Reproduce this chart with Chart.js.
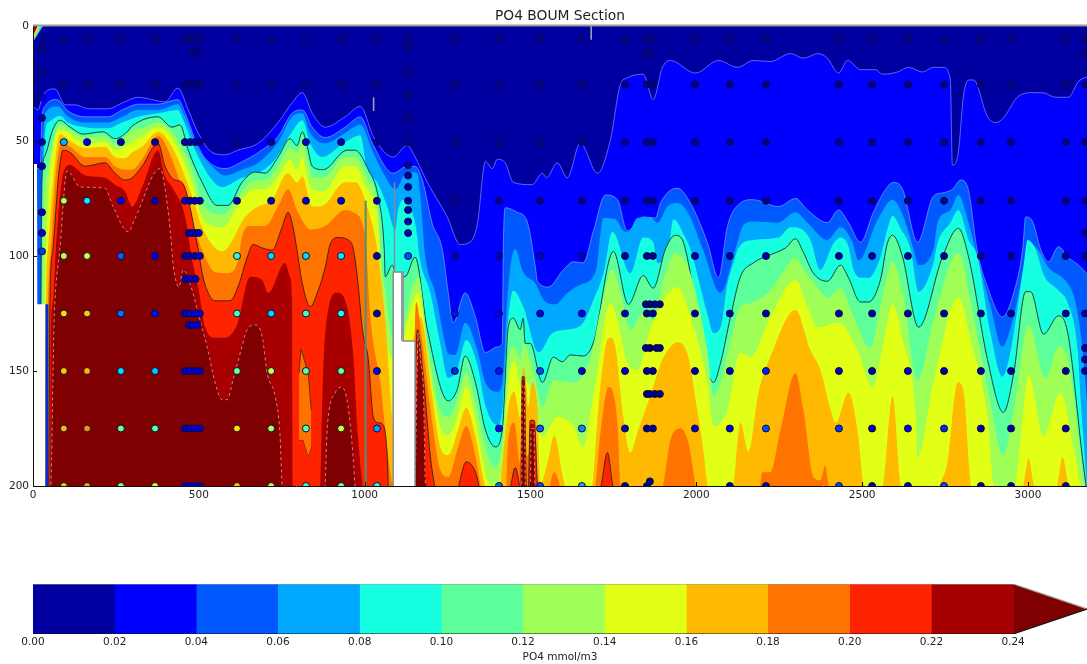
<!DOCTYPE html>
<html>
<head>
<meta charset="utf-8">
<title>PO4 BOUM Section</title>
<script src="https://cdn.jsdelivr.net/npm/chart.js@4"></script>
<style>
  html, body { margin: 0; background: #fff; }
  canvas { position: absolute; left: 0; }
  #section { top: 0; }
  #colorbar { top: 570px; }
</style>
</head>
<body>
<canvas id="section" width="1087" height="520"></canvas>
<canvas id="colorbar" width="1087" height="94"></canvas>
<script>
// Colour bands and axis ticks
const levelValues = [0, 0.02, 0.04, 0.06, 0.08, 0.10, 0.12, 0.14, 0.16, 0.18, 0.20, 0.22, 0.24];
const bandColors = ["#0000a0", "#0000ff", "#0058ff", "#00a8ff", "#16ffe1", "#5cff9a", "#a0ff56", "#e2ff16", "#ffb900", "#ff7300", "#ff2400", "#a80000", "#7f0000"];
const xTickValues = [0, 500, 1000, 1500, 2000, 2500, 3000];
const yTickValues = [0, 50, 100, 150, 200];

// Contour lines: [distance km, depth m]. Depth 205 means the level is not reached above 200 m.
const iso00 = [[0,0],[3180,0]];
const iso02 = [[0,35],[15,36.5],[30,30],[66,27.4],[97,34.3],[127,34.3],[166,36],[226,36],[269,33.5],[317,31],[398,33],[437,27],[468,36.5],[498,46.5],[540,55],[579,56],[618,54],[679,51],[739,42],[781,33.5],[812,29],[842,38],[881,44],[941,39.5],[987,35],[1026,48],[1086,57],[1128,52],[1152,57],[1189,68],[1249,83],[1288,95],[1318,94],[1340,86],[1364,59],[1385,62],[1400,58],[1424,59.5],[1448,68],[1505,69],[1536,64],[1548,66],[1581,59.5],[1611,66],[1650,51],[1702,64],[1741,49.5],[1771,25.5],[1792,22.5],[1840,21],[1870,32],[1898,18],[1922,15],[1997,20.5],[2067,15],[2124,18],[2172,15],[2223,15.5],[2284,12],[2323,14],[2368,12],[2395,14],[2429,20.5],[2456,15],[2495,19],[2540,19],[2561,21],[2607,20],[2640,18],[2682,20],[2715,18],[2745,18],[2766,23.5],[2772,60.5],[2790,55],[2805,31],[2821,23.5],[2836,23.5],[2878,39.5],[2902,42],[2926,40],[2968,31],[3014,29],[3044,29],[3083,31],[3122,31],[3153,24],[3180,22]];
const iso04 = [[0,62],[21,62],[27,40],[36,35],[72,32],[106,37],[157,39.5],[226,39.5],[269,36.5],[317,34],[377,34],[437,32],[459,38],[489,49.5],[519,57.5],[579,62],[630,59],[679,55],[739,48],[781,38],[812,36.5],[842,44],[881,48.5],[941,44],[987,39.5],[1023,51],[1086,64],[1128,61],[1152,61],[1174,67],[1204,86],[1234,97],[1252,116],[1267,129],[1303,116],[1334,126.5],[1364,142],[1400,139.5],[1415,138],[1418,97],[1424,79],[1460,81],[1490,85],[1515,105],[1521,111],[1554,113.5],[1599,106],[1629,102.5],[1659,103],[1690,89],[1726,73.5],[1762,75.5],[1792,89],[1840,83],[1877,83.5],[1892,77],[1943,70.5],[1982,77],[2033,94],[2067,109.5],[2094,87],[2133,77],[2169,75.5],[2248,78.5],[2299,75],[2335,80],[2395,85.5],[2429,80],[2459,85.5],[2495,94],[2534,81],[2576,70],[2595,68],[2622,71],[2667,94],[2715,74],[2745,72.5],[2772,71],[2797,67],[2818,70],[2848,98.5],[2878,113.5],[2923,126.5],[2957,116],[2984,97],[2993,83],[3014,85],[3038,97],[3062,102.5],[3092,96],[3120,100.5],[3153,104],[3180,108]];
const iso06 = [[0,205],[24,205],[27,60],[30,49.5],[36,38],[75,35],[106,39.5],[157,42],[226,42],[269,39.5],[317,36.5],[377,36.5],[437,34],[459,39.5],[495,52.5],[540,61],[579,65],[630,62.5],[679,59.5],[739,50.5],[781,39.5],[812,38],[836,46.5],[881,51],[941,46.5],[987,43],[1026,55],[1062,65.5],[1092,71],[1128,63.5],[1159,64],[1168,74],[1183,100],[1213,116],[1243,138],[1252,142.5],[1273,143],[1303,129],[1340,141],[1364,155],[1403,159],[1418,151],[1430,119],[1442,102],[1454,97],[1478,107],[1515,112],[1539,119],[1575,121],[1611,116],[1650,112.5],[1696,107],[1720,83.5],[1756,84],[1780,89],[1795,89.5],[1822,83.5],[1861,83],[1883,85.5],[1913,78.5],[1943,77],[1976,81.5],[2021,97.5],[2073,116],[2118,97],[2142,86.5],[2172,85],[2245,85.5],[2299,81],[2335,85.5],[2395,93],[2435,87.5],[2471,94],[2489,102],[2546,84.5],[2592,75.5],[2625,83],[2655,97],[2670,104],[2715,97],[2727,85.5],[2766,80],[2790,73.5],[2821,85.5],[2842,97],[2887,122],[2923,139.5],[2948,131],[2984,107.5],[2999,94],[3029,97],[3062,105],[3120,112],[3144,120.5],[3165,141],[3180,167]];
const iso08 = [[0,205],[30,205],[33,56],[45,42],[81,39],[106,42],[157,44],[226,44.5],[269,42],[317,39.5],[377,38],[437,36.5],[453,41],[489,54],[540,67],[570,70],[630,66],[679,64],[730,58],[781,46],[812,41],[836,51],[872,57],[941,50.5],[987,47.5],[1008,62.5],[1038,68],[1068,78.5],[1092,88.5],[1101,80],[1116,75.5],[1137,78.5],[1159,92],[1162,97],[1198,116],[1228,138],[1252,153],[1279,149],[1306,136.5],[1340,147.5],[1364,165],[1400,173.5],[1415,167],[1430,132],[1448,115],[1478,122],[1524,142],[1566,133.5],[1611,132],[1659,129],[1690,119],[1720,107.5],[1747,89.5],[1801,107.5],[1840,92],[1870,94],[1883,103],[1913,100],[1931,84],[1967,92],[1982,97],[2033,125],[2052,133.5],[2073,131],[2094,112],[2112,103],[2127,96.5],[2172,93],[2248,92],[2284,87.5],[2299,87.5],[2344,93],[2374,106],[2414,94.5],[2435,92],[2459,96],[2474,106],[2501,109.5],[2519,109.5],[2555,100.5],[2576,88.5],[2592,82.5],[2616,88],[2646,97],[2670,115.5],[2715,103],[2727,94.5],[2766,85.5],[2790,80],[2821,93],[2848,100.5],[2887,133.5],[2923,152.5],[2948,141],[2987,104],[2999,93],[3023,97],[3047,108],[3092,115],[3120,120.5],[3150,141],[3159,162.5],[3174,192],[3180,205]];
const iso10 = [[0,205],[21,205],[24,119],[27,67],[36,56.5],[60,45],[81,41],[112,44],[151,47],[211,46],[247,49],[284,46],[299,43.5],[377,39.5],[419,44],[443,43],[468,54],[510,68],[555,78],[588,78],[630,68],[670,63.5],[700,64],[739,57],[775,49],[796,52],[812,46],[827,52.5],[842,61],[875,62.5],[947,54],[971,54],[1011,62.5],[1041,74.5],[1059,97],[1062,109],[1083,104],[1092,107],[1122,109],[1152,100.5],[1189,132],[1252,163],[1279,158],[1303,143.5],[1334,155],[1364,175.5],[1394,183],[1415,175.5],[1433,131],[1448,127],[1469,132],[1478,127],[1484,138],[1499,138],[1536,155],[1569,144],[1596,146],[1620,143],[1659,143.5],[1690,137.5],[1750,98],[1795,121],[1840,108.5],[1870,114],[1907,97],[1937,91],[1958,93],[1967,97],[2052,155],[2073,146.5],[2103,126.5],[2133,109],[2172,103],[2223,99.5],[2269,96.5],[2299,92.5],[2323,98.5],[2353,107.5],[2395,111],[2435,104],[2459,109.5],[2495,120],[2519,120],[2555,110.5],[2576,94.5],[2592,91],[2622,100.5],[2670,131],[2742,100.5],[2790,88],[2821,100.5],[2878,145],[2926,168],[2957,151],[2993,115.5],[3008,115.5],[3047,134],[3092,126],[3120,133.5],[3165,188.5],[3174,198.5],[3180,205]];
const iso12 = [[0,205],[27,205],[30,97],[42,64],[66,48],[81,43],[112,45],[157,48.5],[217,48],[247,51],[278,48.5],[299,45.5],[329,44.5],[377,42],[419,46],[480,62.5],[510,77],[570,82],[630,72],[670,67],[700,67],[739,61],[775,53],[796,55],[812,50.5],[827,58],[842,65.5],[875,66],[941,57],[971,57],[1011,67],[1041,80],[1047,97],[1062,115],[1083,136.5],[1092,139],[1162,109],[1192,141],[1228,167],[1252,170],[1279,162.5],[1306,151],[1334,164],[1364,183],[1394,192],[1415,181],[1433,145],[1451,139.5],[1469,145],[1478,138],[1499,145],[1521,158],[1536,165.5],[1569,154],[1629,155],[1680,145],[1711,123.5],[1747,106],[1771,116],[1801,132],[1840,125],[1870,128],[1898,112],[1937,98.7],[1982,107.5],[2033,141],[2052,161],[2073,155],[2109,133.5],[2133,122],[2163,120.5],[2223,115],[2260,107.5],[2299,100.5],[2320,105],[2365,113.5],[2395,118],[2435,114],[2471,125],[2525,140],[2555,122],[2592,102.5],[2622,115],[2667,154],[2715,128],[2790,98.7],[2836,126.5],[2878,157],[2926,186.5],[2957,167],[3002,130],[3053,153],[3092,139.5],[3120,145],[3153,178.5],[3168,198.5],[3180,205]];
const iso14 = [[0,205],[33,205],[36,115],[39,97],[51,64],[81,45],[112,47],[157,51],[217,50.5],[247,54],[278,52.5],[299,50.5],[329,48],[377,44],[419,48.5],[480,68],[510,83],[570,87.5],[630,75.5],[670,71],[700,71],[739,65.5],[775,58],[796,62.5],[812,57],[827,65.5],[842,71],[875,72],[941,61],[971,61],[1011,72],[1041,84.5],[1053,116],[1071,141],[1092,145],[1162,116],[1198,151],[1228,174],[1252,178],[1279,170],[1306,157],[1334,171],[1364,194],[1382,199.5],[1403,199],[1418,184],[1433,155],[1451,146],[1475,158],[1490,155],[1515,170],[1536,178.5],[1581,170],[1629,174],[1659,183],[1696,155],[1741,120.5],[1762,128],[1792,146.5],[1822,149.5],[1861,132],[1907,118],[1943,113.5],[1976,123.5],[2033,155],[2052,174],[2073,172.5],[2094,167],[2133,142],[2163,144],[2223,126.5],[2299,110.5],[2335,122],[2365,131],[2429,129],[2486,141],[2531,157],[2564,138],[2592,121],[2622,136.5],[2661,168],[2667,187.5],[2715,155],[2790,118],[2827,136.5],[2878,170],[2896,199],[2923,205],[2945,205],[2963,199],[2984,170],[3002,152],[3047,178.5],[3098,159.5],[3138,184],[3159,199],[3180,205]];
const iso16 = [[0,205],[36,205],[39,120],[45,97],[63,64],[81,47],[112,50],[157,53],[217,52.5],[247,57],[278,57.5],[299,55],[329,52.5],[377,46],[419,52.5],[480,74],[510,87.5],[570,98],[640,83],[679,78.5],[721,75.5],[769,64],[796,68],[812,65.5],[842,78.5],[875,78],[941,68],[971,68],[1011,80],[1038,97],[1062,128],[1083,170],[1092,180],[1168,126.5],[1204,161],[1228,183],[1252,186.5],[1282,175.5],[1306,166],[1334,178.5],[1361,199],[1375,205],[1400,205],[1409,199],[1418,185.5],[1433,165.5],[1451,159],[1469,170],[1478,148],[1487,155],[1493,165.5],[1505,155],[1521,167],[1530,199],[1551,190],[1572,178],[1599,197],[1614,205],[1675,205],[1687,199],[1705,165.5],[1726,139.5],[1741,135.5],[1756,139.5],[1780,170],[1801,185.5],[1825,175.5],[1861,161],[1898,145],[1946,137.5],[1976,144],[2003,167],[2021,184],[2033,199],[2045,205],[2100,205],[2112,199],[2133,172.5],[2157,185],[2187,159.5],[2223,144],[2299,123.5],[2344,141],[2374,149.5],[2405,167],[2420,172.5],[2459,159.5],[2486,175.5],[2504,199],[2520,205],[2550,205],[2564,199],[2592,161],[2616,199],[2630,205],[2725,205],[2736,199],[2757,190],[2788,155],[2805,158],[2827,199],[2840,205],[2975,205],[2987,199],[3002,188],[3017,199],[3030,205],[3075,205],[3089,199],[3104,187.5],[3122,199],[3135,205],[3180,205]];
const iso18 = [[0,205],[36,205],[45,120],[54,97],[69,64],[87,50.5],[112,52.5],[157,57],[217,57],[247,61],[278,62.5],[299,62.5],[329,58],[377,48],[419,58],[468,80],[519,100.5],[549,107],[588,107.5],[618,102],[630,92],[649,87],[700,87],[739,78.5],[769,71],[799,81],[836,88.5],[881,87],[941,80],[965,81],[1002,92],[1017,126.5],[1047,155],[1071,187],[1083,199],[1100,205],[1140,205],[1155,120],[1174,138],[1204,172.5],[1228,193],[1252,196],[1282,183],[1306,174],[1334,187],[1349,199],[1360,205],[1425,205],[1433,180],[1451,172.5],[1469,190],[1475,161],[1484,158],[1490,187],[1496,184],[1502,171],[1515,172.5],[1521,199],[1530,205],[1555,205],[1560,199],[1572,194],[1587,199],[1595,205],[1685,205],[1696,199],[1711,177],[1735,157],[1762,172.5],[1771,199],[1780,205],[1890,205],[1901,199],[1922,180],[1952,175],[1976,181],[1997,199],[2005,205],[2180,205],[2193,199],[2199,194],[2223,194],[2254,175.5],[2299,151],[2323,167],[2353,196],[2374,197.5],[2389,191],[2398,199],[2410,205],[3180,205]];
const iso20 = [[0,205],[36,205],[47,200],[51,120],[60,97],[78,64],[91,54],[112,55],[157,61],[217,59.5],[247,64],[278,67],[299,66],[329,61],[377,51],[398,61],[428,67],[449,68],[498,97],[510,107.5],[528,116],[549,119.5],[594,119.5],[618,113.5],[646,100.5],[664,95],[691,96.5],[721,97.5],[751,87.5],[769,81],[784,87.5],[796,97.5],[812,112],[836,122],[860,115],[881,105],[896,95],[920,92],[950,93],[965,96.5],[980,112],[993,132],[1011,145],[1026,170],[1041,172.5],[1056,173.5],[1068,187],[1071,199],[1078,205],[1140,205],[1159,132],[1177,152.5],[1198,187],[1210,199],[1220,205],[1275,205],[1285,199],[1306,189.5],[1334,194],[1343,199],[1350,205],[1435,205],[1442,199],[1454,192],[1466,199],[1472,205],[1473,205],[1475,152.5],[1481,152.5],[1487,199],[1493,205],[1499,171.5],[1511,171.5],[1521,199],[1527,205],[1705,205],[1714,199],[1732,185.5],[1747,199],[1755,205],[3180,205]];
const iso22 = [[0,205],[36,205],[51,200],[54,132],[60,120],[69,97],[91,64],[112,60.5],[157,65],[217,66],[247,69],[278,72],[299,78.5],[329,70],[377,54],[398,65.5],[419,70],[459,83],[480,102],[498,113.5],[519,131],[549,135.5],[579,135.5],[615,130],[655,109],[691,110.5],[709,116],[760,103],[775,109],[781,119],[783,199],[786,205],[860,205],[866,199],[872,162.5],[881,133.5],[917,116],[947,122],[965,142],[980,178.5],[993,199],[1000,205],[1145,205],[1157,160],[1177,155],[1186,199],[1192,205],[1470,205],[1474,154],[1482,154],[1486,205],[1497,205],[1500,173],[1510,173],[1516,205],[3180,205]];
const iso24 = [[0,205],[36,205],[50,205],[54,200],[63,132],[66,120],[81,97],[103,63],[112,64],[142,70],[217,70.5],[241,78.5],[287,89.5],[308,83.5],[383,62],[407,80],[419,97.5],[422,103],[440,113.5],[453,106],[480,115],[498,125],[525,139.5],[549,155],[570,162.5],[585,162.5],[603,154],[630,139.5],[646,132],[670,130],[691,135],[706,151],[730,161],[745,178.5],[751,200],[755,205],[875,205],[881,199],[887,175.5],[911,159.5],[932,157],[950,165.5],[965,187],[971,200],[976,205],[1150,205],[1162,133.5],[1168,145],[1177,158],[1183,199],[1188,205],[1473,205],[1475,156],[1481,156],[1485,205],[1500,205],[1502,175],[1510,175],[1514,205],[3180,205]];
const isoLines = [iso00, iso02, iso04, iso06, iso08, iso10, iso12, iso14, iso16, iso18, iso20, iso22, iso24];

// Orange pocket inside the red water near 800 km
const pocketTop = [[802,151],[808,140.5],[830,151],[839,167]];
const pocketBottom = [[802,180],[815,180],[830,187],[839,183]];
// Small high-value patch in the top left corner
const cornerCyan = [[0,7],[30,0]];
const cornerYellow = [[0,6],[22,0]];
const cornerRed = [[0,4.5],[14,0]];
// Missing data columns
const gapLeft = [[0,60],[12,60],[13,121],[36,121]];
const gapMiddle = [[1086,205],[1086,107],[1116,107],[1116,137],[1152,137],[1152,205]];
// Narrow vertical artefacts
const stripeLeft = [[42,121],[42,205]];
const spike1000 = [[1003,76],[1003,205]];
const spike1090 = [[1090,68],[1090,107]];
const spike1112 = [[1112,107],[1112,137]];
const mark1027 = [[1027,31],[1027,37]];
const mark1683 = [[1683,0],[1683,6]];

// Bottle samples, one row per depth, aligned with stationKm
const stationKm = [27,93,163,265,368,458,473,488,503,615,718,823,929,1037,1131,1272,1405,1529,1655,1785,1851,1869,1996,2101,2210,2430,2530,2638,2747,2858,2949,3114,3172];
const depthRows = [5.5, 25.5, 50.5, 76, 100, 125, 150, 175, 200];
const po4At5 = [.01,.005,.005,.005,.005,.005,.005,.005,.005,.005,.005,.01,.005,.005,.005,.005,.005,.005,.005,.005,.005,.005,.005,.005,.005,.005,.005,.005,.005,.005,.005,.005,.005];
const po4At25 = [null,.005,.005,.005,.005,.005,.005,.005,.005,.005,.005,.01,.005,.005,null,.005,.005,.005,.005,.005,.005,.005,.005,.005,.005,.005,.005,.005,.005,.005,.005,.005,.005];
const po4At50 = [.01,.075,.03,.01,.01,.01,.01,.01,.005,.005,.01,.015,.015,.01,.01,.005,.005,.005,.005,.005,.005,.005,.005,.005,.005,.005,.005,.005,.005,.005,.005,.005,.005];
const po4At75 = [null,.14,.09,.03,.02,.015,.015,.015,.01,.015,.015,.02,.02,.01,.01,.005,.005,.005,.005,.005,.005,.005,.005,.005,.005,.005,.005,.005,.005,.005,.005,.005,.005];
const po4At100 = [null,.14,.145,.055,.03,.015,.015,.01,.02,.105,.085,.085,.09,.01,.05,.015,.015,.02,.02,.01,.005,.005,.01,.01,.01,.01,.01,.01,.01,.005,.005,.01,.005];
const po4At125 = [null,.165,.17,.06,.035,.02,.025,.03,.025,.11,.085,.11,.1,.01,null,.035,.03,.025,.03,.015,.005,.005,.01,.01,.01,.01,.01,.01,.01,.005,.01,.01,.01];
const po4At150 = [null,.17,.175,.085,.08,.02,.025,.02,.02,.12,.14,.115,.12,.03,null,.04,.035,.05,.015,.02,.005,.005,.01,.01,.04,.015,.01,.015,.01,.005,.01,.01,.01];
const po4At175 = [null,.175,.185,.12,.115,.02,.02,.025,.02,.165,.135,.115,.145,.07,null,null,.035,.055,.065,.015,.005,.005,.015,.025,.05,.045,.015,.03,.04,.01,.01,.01,null];
const po4At200 = [null,.17,.18,.13,.15,.02,.02,.02,.025,.17,.14,.11,.125,.1,null,null,.06,.05,.075,.01,.01,null,null,.01,.01,.05,.01,.02,.05,.01,.005,.005,null];
const po4Rows = [po4At5, po4At25, po4At50, po4At75, po4At100, po4At125, po4At150, po4At175, po4At200];

// Extra bottles on the finely sampled casts
const extraKm = [27,27,27,27,27,27,27,27,1131,1131,1131,1131,1131,1131,1131,1131,1131,1131,480,495,470,480,490,500,460,475,490,470,480,495,1851,1860,1848,1860,1875,1890,1848,1860,1880,1890,1851,1860,1875,1890,1860,3172,3172,3172,3172];
const extraDepth = [10,20,31,40,61,81,90,98,9.5,20,30,40,60.5,65,70,80,85,90,11,11,90,90,90,90,110,110,110,130,130,130,12,12,121,121,121,121,140,140,140,140,160,160,160,160,198,12,90,140,145];
const extraPO4 = [.005,.005,.02,.01,.01,.015,.025,.045,.005,.005,.005,.005,.01,.01,.01,.01,.015,.015,.005,.005,.015,.02,.02,.02,.02,.02,.02,.02,.025,.025,.005,.005,.002,.002,.002,.002,.002,.002,.002,.002,.002,.002,.002,.002,.002,.005,.005,.01,.01];

const FONT = "'DejaVu Sans', sans-serif";

function toPoints(pairs) {
  return pairs.map(p => ({ x: p[0], y: p[1] }));
}

// jet colormap for the sample dots
function jetColor(v) {
  const t = v / 0.25;
  const c = k => Math.round(255 * Math.min(1, Math.max(0, 1.5 - Math.abs(4 * t - k))));
  return `rgb(${c(3)},${c(2)},${c(1)})`;
}

function outline(i) {
  if (i === 1 || i === 2) return { borderColor: "rgba(190,210,255,.6)", borderWidth: 0.8 };
  if (i === 5) return { borderColor: "#17433c", borderWidth: 1 };
  if (i === 10) return { borderColor: "#43260c", borderWidth: 1 };
  if (i === 12) return { borderColor: "rgba(225,190,190,.7)", borderWidth: 1, borderDash: [3, 3] };
  return { borderWidth: 0 };
}

function sampleDataset() {
  const points = [];
  const colors = [];
  po4Rows.forEach((row, r) => {
    row.forEach((v, s) => {
      if (v === null) return;
      points.push({ x: stationKm[s], y: depthRows[r] });
      colors.push(jetColor(v));
    });
  });
  extraKm.forEach((km, i) => {
    points.push({ x: km, y: extraDepth[i] });
    colors.push(jetColor(extraPO4[i]));
  });
  return {
    data: points, showLine: false, order: 0, pointRadius: 3.5, pointBorderWidth: 1,
    pointBackgroundColor: colors, pointBorderColor: "#0a0a3a"
  };
}

function sectionDatasets() {
  const sets = isoLines.map((pairs, i) => ({
    data: toPoints(pairs), order: 200 - i, pointRadius: 0,
    cubicInterpolationMode: "monotone",
    backgroundColor: bandColors[i], fill: { value: 205 }, ...outline(i)
  }));

  // pocket: top edge fills down to the bottom edge in the next dataset
  sets.push({ data: toPoints(pocketTop), order: 40, pointRadius: 0, borderColor: "#43260c", borderWidth: 0.8, backgroundColor: bandColors[9], fill: "+1" });
  sets.push({ data: toPoints(pocketBottom), order: 41, pointRadius: 0, borderColor: "#43260c", borderWidth: 0.8, fill: false });

  [[cornerCyan, "#30e0ff"], [cornerYellow, "#ffe020"], [cornerRed, "#a01000"]].forEach((c, i) => {
    sets.push({ data: toPoints(c[0]), order: 30 - i, pointRadius: 0, borderWidth: 0, backgroundColor: c[1], fill: { value: 0 } });
  });

  sets.push({ data: toPoints(gapLeft), order: 20, pointRadius: 0, borderWidth: 0, backgroundColor: "#fff", fill: { value: 205 } });
  sets.push({ data: toPoints(gapMiddle), order: 19, pointRadius: 0, borderColor: "#8a8a8a", borderWidth: 1.5, backgroundColor: "#fff", fill: { value: 205 } });

  [[stripeLeft, "#0a28d8", 3], [spike1000, "#4f8f80", 2], [spike1090, "#8a8a9a", 1.5], [spike1112, "#8a8a9a", 1.5], [mark1027, "#a8a8a8", 1.5], [mark1683, "#a8a8a8", 1.5]].forEach((s, i) => {
    sets.push({ data: toPoints(s[0]), order: 10 - i, pointRadius: 0, borderColor: s[1], borderWidth: s[2], fill: false });
  });

  sets.push(sampleDataset());
  return sets;
}

// Matplotlib style frame with the tick marks pointing inwards
const framePlugin = {
  id: "frame",
  afterDraw(chart) {
    const { ctx, chartArea: a, scales } = chart;
    ctx.save();
    ctx.lineWidth = 1;
    ctx.strokeStyle = "#111";
    ctx.beginPath();
    xTickValues.forEach(v => {
      const px = Math.round(scales.x.getPixelForValue(v)) + 0.5;
      ctx.moveTo(px, a.bottom); ctx.lineTo(px, a.bottom - 4);
      ctx.moveTo(px, a.top); ctx.lineTo(px, a.top + 3);
    });
    yTickValues.forEach(v => {
      const py = Math.round(scales.y.getPixelForValue(v)) + 0.5;
      ctx.moveTo(a.left, py); ctx.lineTo(a.left + 4, py);
    });
    ctx.moveTo(a.left + 0.5, a.top); ctx.lineTo(a.left + 0.5, a.bottom);
    ctx.moveTo(a.left, a.bottom + 0.5); ctx.lineTo(a.right, a.bottom + 0.5);
    ctx.stroke();
    ctx.strokeStyle = "#999";
    ctx.lineWidth = 2;
    ctx.beginPath();
    ctx.moveTo(a.left, a.top - 0.5); ctx.lineTo(a.right, a.top - 0.5);
    ctx.stroke();
    ctx.restore();
  }
};

new Chart(document.getElementById("section"), {
  type: "line",
  data: { datasets: sectionDatasets() },
  plugins: [framePlugin],
  options: {
    responsive: false,
    animation: false,
    events: [],
    layout: { autoPadding: false },
    plugins: {
      legend: { display: false },
      tooltip: { enabled: false },
      title: {
        display: true, text: "PO4 BOUM Section", color: "#222", fullSize: false,
        font: { family: FONT, size: 13.8, weight: "normal" },
        padding: { top: 8, bottom: 1.4 }
      }
    },
    scales: {
      x: {
        type: "linear", min: 0, max: 3178,
        afterBuildTicks: s => { s.ticks = xTickValues.map(v => ({ value: v })); },
        afterFit: s => { s.height = 34; s.paddingRight = 0; s.paddingLeft = 0; },
        grid: { display: false, drawTicks: false }, border: { display: false },
        ticks: { color: "#222", font: { family: FONT, size: 10.5 }, maxRotation: 0, autoSkip: false, padding: 3, callback: v => String(v) }
      },
      y: {
        type: "linear", min: 0, max: 200, reverse: true,
        afterBuildTicks: s => { s.ticks = yTickValues.map(v => ({ value: v })); },
        afterFit: s => { s.width = 33; s.paddingTop = 0; s.paddingBottom = 0; },
        grid: { display: false, drawTicks: false }, border: { display: false },
        ticks: { color: "#222", font: { family: FONT, size: 10.5 }, padding: 4 }
      }
    }
  }
});

// Colour bar: each band runs to the last level and the next band paints over it
const barTicks = levelValues;
const barMax = 0.2581;

function barDatasets() {
  const last = levelValues[levelValues.length - 1];
  const sets = [];
  for (let i = 0; i < levelValues.length - 1; i++) {
    sets.push({
      data: [{ x: levelValues[i], y: 1 }, { x: last, y: 1 }], order: 100 - i,
      pointRadius: 0, borderWidth: 0, backgroundColor: bandColors[i], fill: { value: 0 }
    });
  }
  const arrowColor = bandColors[bandColors.length - 1];
  sets.push({ data: [{ x: last, y: 1 }, { x: barMax, y: 0.5 }], order: 50, pointRadius: 0, borderWidth: 0, backgroundColor: arrowColor, fill: { value: 0.5 } });
  sets.push({ data: [{ x: last, y: 0 }, { x: barMax, y: 0.5 }], order: 50, pointRadius: 0, borderWidth: 0, backgroundColor: arrowColor, fill: { value: 0.5 } });
  sets.push({ data: [{ x: 0, y: 0 }, { x: last, y: 0 }, { x: barMax, y: 0.5 }], order: 1, pointRadius: 0, borderColor: "#111", borderWidth: 1.2, fill: false });
  sets.push({ data: [{ x: 0, y: 1 }, { x: last, y: 1 }, { x: barMax, y: 0.5 }], order: 1, pointRadius: 0, borderColor: "#999", borderWidth: 1.2, fill: false });
  return sets;
}

new Chart(document.getElementById("colorbar"), {
  type: "line",
  data: { datasets: barDatasets() },
  options: {
    responsive: false,
    animation: false,
    events: [],
    layout: { padding: { left: 33, top: 14 } },
    plugins: { legend: { display: false }, tooltip: { enabled: false } },
    scales: {
      x: {
        type: "linear", min: 0, max: barMax,
        afterBuildTicks: s => { s.ticks = barTicks.map(v => ({ value: v })); },
        afterFit: s => { s.height = 30; },
        grid: { display: false, drawTicks: false }, border: { display: false },
        title: { display: true, text: "PO4 mmol/m3", color: "#222", font: { family: FONT, size: 10.5 }, padding: 0 },
        ticks: {
          color: "#222", font: { family: FONT, size: 10.5 }, maxRotation: 0, autoSkip: false, padding: 2,
          callback: v => v.toFixed(2)
        }
      },
      y: { type: "linear", min: 0, max: 1, display: false }
    }
  }
});
</script>
</body>
</html>
